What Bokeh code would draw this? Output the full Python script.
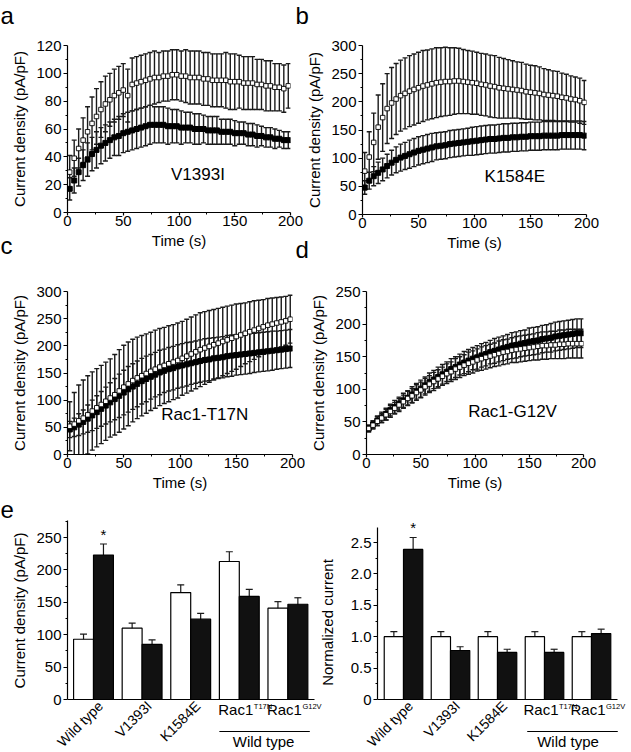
from bokeh.plotting import figure
from bokeh.models import (ColumnDataSource, Whisker, TeeHead, Label, Arrow, FixedTicker,
                          NumeralTickFormatter, Range1d, Row, Column)
from bokeh.embed import file_html
from bokeh.resources import INLINE

FONT = "Liberation Sans"

# ---------------- data ----------------
t = [2, 6, 10, 14, 18, 22, 26, 30, 34, 38, 42, 46, 50, 54, 58, 62, 66, 70, 74, 78,
     82, 86, 90, 94, 98, 102, 106, 110, 114, 118, 122, 126, 130, 134, 138, 142, 146, 150, 154, 158,
     162, 166, 170, 174, 178, 182, 186, 190, 194, 198]

# panel a (V1393I)
a_ctrl = [29, 39, 46, 52, 58, 64, 69, 74, 78, 81, 84, 86, 88, 84, 92, 93, 94, 95, 96, 97,
          97, 98, 98, 99, 99, 98, 98, 97, 97, 97, 96, 96, 95, 95, 95, 95, 94, 94, 94, 93,
          93, 93, 92, 92, 91, 91, 90, 90, 89, 91]
a_ctrl_err = [12, 13, 14, 16, 18, 19, 20, 20, 20, 19, 19, 19, 19, 19, 19, 19, 19, 19, 19, 19,
              18, 18, 18, 18, 18, 18, 19, 19, 19, 19, 19, 19, 19, 19, 19, 20, 20, 20, 19, 19,
              19, 19, 18, 18, 18, 18, 17, 17, 17, 16]
a_trt = [17, 23, 29, 34, 38, 42, 45, 48, 50, 52, 54, 55, 57, 58, 59, 60, 61, 62, 63, 63,
         63, 63, 62, 62, 62, 61, 61, 61, 60, 60, 60, 59, 59, 59, 58, 58, 58, 57, 57, 57,
         56, 56, 55, 55, 54, 54, 53, 53, 52, 52]
a_trt_err = [8, 9, 10, 11, 12, 12, 13, 13, 13, 13, 13, 14, 14, 14, 14, 14, 14, 14, 14, 13,
             13, 13, 13, 12, 12, 12, 11, 11, 11, 11, 10, 10, 10, 10, 9, 9, 9, 9, 8, 8,
             8, 8, 8, 7, 7, 7, 7, 6, 6, 6]

# panel b (K1584E)
b_ctrl = [77, 102, 128, 155, 172, 188, 198, 205, 211, 215, 219, 222, 225, 228, 230, 232, 234, 235, 236, 236,
          237, 237, 236, 235, 234, 233, 231, 230, 228, 227, 225, 224, 223, 222, 221, 220, 218, 217, 216, 215,
          213, 212, 211, 210, 208, 207, 205, 204, 202, 199]
b_ctrl_err = [33, 45, 52, 57, 60, 62, 63, 63, 63, 63, 63, 63, 63, 63, 62, 62, 62, 61, 61, 60,
              59, 58, 57, 56, 56, 55, 55, 55, 55, 55, 54, 53, 52, 51, 50, 50, 49, 48, 48, 47,
              46, 45, 44, 44, 43, 42, 41, 40, 40, 39]
b_trt = [48, 60, 68, 74, 80, 86, 92, 97, 101, 104, 107, 110, 113, 115, 117, 119, 121, 122, 123, 125,
         126, 127, 128, 129, 130, 131, 132, 133, 134, 134, 135, 136, 136, 137, 137, 138, 138, 139, 139, 139,
         140, 140, 140, 140, 141, 141, 141, 141, 141, 140]
b_trt_err = [12, 15, 17, 19, 20, 21, 22, 23, 24, 24, 25, 25, 25, 25, 25, 25, 24, 24, 24, 24,
             24, 24, 24, 24, 25, 25, 25, 25, 25, 25, 25, 25, 25, 25, 25, 25, 25, 25, 25, 25,
             25, 25, 25, 25, 25, 25, 25, 25, 25, 25]

# panel c (Rac1-T17N)
c_ctrl = [52, 56, 62, 67, 73, 80, 86, 92, 98, 104, 110, 117, 124, 130, 136, 141, 145, 149, 153, 157,
          161, 164, 167, 170, 173, 177, 181, 185, 189, 193, 196, 199, 202, 205, 208, 211, 214, 217, 220, 223,
          226, 229, 232, 235, 238, 240, 242, 244, 246, 249]
c_ctrl_err = [45, 58, 66, 70, 72, 72, 72, 72, 72, 72, 74, 76, 77, 77, 76, 75, 74, 73, 72, 72,
              71, 70, 70, 69, 69, 68, 68, 68, 68, 68, 67, 66, 65, 64, 63, 62, 61, 60, 58, 56,
              55, 54, 52, 50, 49, 48, 47, 46, 45, 44]
c_trt = [46, 50, 55, 60, 66, 72, 78, 84, 90, 96, 102, 108, 114, 120, 125, 130, 135, 139, 143, 147,
         151, 154, 157, 159, 162, 164, 166, 168, 170, 172, 174, 175, 177, 178, 179, 181, 182, 183, 184, 185,
         186, 187, 188, 189, 190, 191, 192, 193, 194, 195]
c_trt_err = [15, 17, 20, 22, 25, 28, 30, 32, 34, 36, 38, 40, 41, 42, 42, 42, 42, 42, 41, 41,
             41, 40, 40, 40, 40, 40, 40, 39, 39, 39, 39, 39, 38, 38, 38, 38, 38, 37, 37, 37,
             37, 36, 36, 36, 36, 36, 35, 35, 35, 35]

# panel d (Rac1-G12V)
d_ctrl = [40, 45, 51, 56, 61, 66, 71, 76, 81, 86, 90, 95, 99, 104, 108, 112, 116, 120, 124, 127,
          131, 134, 137, 140, 142, 145, 147, 149, 151, 153, 155, 157, 158, 160, 161, 162, 163, 164, 165, 166,
          167, 167, 168, 168, 169, 169, 170, 170, 170, 170]
d_ctrl_err = [5, 6, 7, 7, 8, 9, 9, 10, 10, 11, 11, 12, 12, 13, 13, 14, 14, 14, 15, 15,
              16, 16, 16, 17, 17, 17, 18, 18, 18, 18, 19, 19, 19, 19, 20, 20, 20, 20, 20, 21,
              21, 21, 21, 21, 22, 22, 22, 22, 22, 22]
d_trt = [40, 46, 52, 57, 62, 68, 73, 78, 83, 87, 92, 97, 101, 106, 111, 115, 119, 123, 127, 131,
         134, 138, 141, 144, 147, 149, 152, 154, 157, 159, 161, 163, 165, 167, 168, 170, 171, 173, 174, 175,
         177, 178, 179, 181, 182, 183, 184, 185, 186, 186]
d_trt_err = [5, 6, 7, 8, 9, 9, 10, 10, 11, 11, 12, 12, 13, 13, 14, 14, 15, 15, 15, 16,
             16, 16, 17, 17, 17, 18, 18, 18, 18, 19, 19, 19, 19, 20, 20, 20, 20, 21, 21, 21,
             21, 21, 22, 22, 22, 22, 22, 22, 22, 22]

# panel e (bar charts)
groups = ["Wild type", "V1393I", "K1584E", "Rac1", "Rac1"]
group_sup = ["", "", "", "T17N", "G12V"]
bracket_label = "Wild type"
dens_ctrl = [93, 110, 165, 213, 141]
dens_ctrl_err = [8, 8, 12, 15, 10]
dens_trt = [223, 85, 124, 159, 147]
dens_trt_err = [17, 7, 9, 11, 10]
norm_ctrl = [1.0, 1.0, 1.0, 1.0, 1.0]
norm_ctrl_err = [0.08, 0.08, 0.08, 0.08, 0.08]
norm_trt = [2.39, 0.78, 0.75, 0.75, 1.05]
norm_trt_err = [0.19, 0.06, 0.05, 0.05, 0.07]

W, H = 631, 752

# ---------------- helpers ----------------
def make_fig(canvas, frame, xr, yr, **kw):
    cl, ct, cr, cb = canvas
    fl, ft, fr, fb = frame
    p = figure(frame_width=fr - fl, frame_height=fb - ft,
               min_border_left=fl - cl, min_border_right=cr - fr,
               min_border_top=ft - ct, min_border_bottom=cb - fb,
               x_range=Range1d(*xr), y_range=Range1d(*yr),
               output_backend="svg", toolbar_location=None, title=None, **kw)
    p.outline_line_color = None
    p.background_fill_color = None
    p.border_fill_color = None
    return p


def style_axes(p):
    p.grid.visible = False
    for ax in p.axis:
        ax.axis_line_color = "black"
        ax.axis_line_width = 1.2
        ax.major_tick_line_color = "black"
        ax.minor_tick_line_color = "black"
        ax.major_tick_line_width = 1.2
        ax.minor_tick_line_width = 1
        ax.major_tick_in = 0
        ax.minor_tick_in = 0
        ax.major_tick_out = 4
        ax.minor_tick_out = 2
        ax.major_label_text_font = FONT
        ax.major_label_text_font_size = "15px"
        ax.major_label_text_color = "black"
        ax.axis_label_text_font = FONT
        ax.axis_label_text_font_size = "15px"
        ax.axis_label_text_font_style = "normal"
        ax.axis_label_text_color = "black"
    for ax in p.xaxis:
        ax.major_tick_out = 3
        ax.major_label_standoff = 0
        ax.axis_label_standoff = 3
    for ax in p.yaxis:
        ax.major_label_standoff = 2
        ax.axis_label_standoff = 5


def whisker(p, xs, mean, err, head, lw):
    src = ColumnDataSource(dict(x=xs, lo=[m - e for m, e in zip(mean, err)],
                                up=[m + e for m, e in zip(mean, err)]))
    p.add_layout(Whisker(source=src, base="x", lower="lo", upper="up", dimension="height",
                         line_color="#1a1a1a", line_width=lw,
                         upper_head=TeeHead(size=head, line_color="#1a1a1a", line_width=lw),
                         lower_head=TeeHead(size=head, line_color="#1a1a1a", line_width=lw)))


def label(p, x, y, text, size, align="left", baseline="middle", angle=0):
    p.add_layout(Label(x=x, y=y, text=text, text_font=FONT, text_font_size=size,
                       text_align=align, text_baseline=baseline, text_color="black",
                       angle=angle, angle_units="deg"))


def time_panel(canvas, frame, ymax, ystep, ctrl, ctrl_err, trt, trt_err, name, name_xy):
    p = make_fig(canvas, frame, (0, 200), (0, ymax))
    p.xaxis.ticker = FixedTicker(ticks=[0, 50, 100, 150, 200], minor_ticks=[25, 75, 125, 175])
    yt = list(range(0, ymax + 1, ystep))
    p.yaxis.ticker = FixedTicker(ticks=yt, minor_ticks=[v + ystep / 2 for v in yt[:-1]])
    p.xaxis.axis_label = "Time (s)"
    p.yaxis.axis_label = "Current density (pA/pF)"
    style_axes(p)
    whisker(p, t, ctrl, ctrl_err, 5, 1.4)
    whisker(p, t, trt, trt_err, 5, 1.4)
    p.scatter(t, trt, marker="square", size=5, fill_color="black", line_color="black")
    p.scatter(t, ctrl, marker="square", size=4.5, fill_color="white", line_color="black",
              line_width=0.9)
    label(p, name_xy[0], name_xy[1], name, "17px", align="center")
    return p


# ---------------- time-course panels ----------------
pa = time_panel((0, 0, 305, 256), (67, 45, 290, 212), 120, 20, a_ctrl, a_ctrl_err, a_trt, a_trt_err,
                "V1393I", (117, 27))
pb = time_panel((290, 0, 631, 256), (362, 43, 586, 212), 300, 50, b_ctrl, b_ctrl_err, b_trt, b_trt_err,
                "K1584E", (136, 68))
pc = time_panel((0, 236, 305, 498), (67, 289, 292, 452), 300, 50, c_ctrl, c_ctrl_err, c_trt, c_trt_err,
                "Rac1-T17N", (122, 73))
pd = time_panel((290, 236, 631, 498), (366, 291, 583, 454), 250, 50, d_ctrl, d_ctrl_err, d_trt, d_trt_err,
                "Rac1-G12V", (134.6, 66.7))

# ---------------- overlay for texts left of the plot frames (page pixel coordinates) ----------------
ov = make_fig((0, 0, W, H), (0, 0, W, H), (0, W), (H, 0), x_axis_type=None, y_axis_type=None)
ov.grid.visible = False
for letter, (lx, ly) in zip("abcde", [(0, 14.5), (295, 14.5), (0, 245), (295, 249), (0, 509)]):
    label(ov, lx, ly, letter, "24px")

# ---------------- bar panels ----------------
# The frame reaches down to the canvas bottom so that the category texts below the
# baseline can be drawn inside it; the y axis is bounded to the data part.
BW = 0.41


def bar_panel(canvas, frame, gx0, ppx, y0px, ppy, axis_end_px, ymax, yticks, yminor,
              ctrl, ctrl_err, trt, trt_err, ylabel, star_py, line_ext):
    fl, ft, fr, fb = frame
    xr = ((fl - gx0) / ppx, (fr - gx0) / ppx)
    yr = ((y0px - fb) / ppy, (y0px - ft) / ppy)
    p = make_fig(canvas, frame, xr, yr, x_axis_type=None)
    p.yaxis.ticker = FixedTicker(ticks=yticks, minor_ticks=yminor)
    p.yaxis.bounds = (0, ymax)
    p.yaxis.axis_label = ylabel
    style_axes(p)

    def X(px):
        return (px - gx0) / ppx

    def Y(py):
        return (y0px - py) / ppy

    # baseline (x axis line without ticks)
    p.segment(x0=[xr[0]], y0=[0], x1=[X(axis_end_px)], y1=[0], line_color="black", line_width=1.2)
    idx = list(range(len(groups)))
    xc = [i - BW / 2 for i in idx]
    xt = [i + BW / 2 for i in idx]
    p.vbar(x=xc, top=ctrl, width=BW, bottom=0, fill_color="white", line_color="black", line_width=1.2)
    p.vbar(x=xt, top=trt, width=BW, bottom=0, fill_color="#111111", line_color="black", line_width=1.2)
    whisker(p, xc, ctrl, ctrl_err, 7, 1.2)
    whisker(p, xt, trt, trt_err, 7, 1.2)

    base = y0px
    label(p, xt[0], Y(star_py), "*", "15px", align="center")
    # first rotated label reaches left of the frame: draw it on the page overlay
    label(ov, gx0 + 7, base + 4, groups[0], "14px", align="right", angle=45)
    for i in (1, 2):
        label(p, i + X(gx0 + 7), Y(base + 4), groups[i], "14px", align="right", angle=45)
    for i in (3, 4):
        label(p, i + X(gx0 + 14), Y(base + 10), groups[i], "15px", align="right")
        label(p, i + X(gx0 + 14.5), Y(base + 7), group_sup[i], "7.5px", align="left")
    x0 = 3 - BW + X(gx0 - line_ext[0])
    x1 = 4 + BW + X(gx0 + line_ext[1])
    p.add_layout(Arrow(end=None, x_start=x0, y_start=Y(base + 32), x_end=x1, y_end=Y(base + 32),
                       line_color="black", line_width=1))
    label(p, 3.5, Y(base + 42), bracket_label, "15px", align="center")
    return p


pe1 = bar_panel((0, 468, 345, 752), (67, 468, 345, 752), 93, 48.6, 699, 162 / 250, 314, 276,
                [0, 50, 100, 150, 200, 250], [25, 75, 125, 175, 225, 275],
                dens_ctrl, dens_ctrl_err, dens_trt, dens_trt_err, "Current density (pA/pF)",
                534, (0, 2))
pe2 = bar_panel((300, 492, 631, 752), (377, 492, 631, 752), 403, 47.0, 699, 157 / 2.5, 617, 2.74,
                [0, 0.5, 1.0, 1.5, 2.0, 2.5], [0.25, 0.75, 1.25, 1.75, 2.25],
                norm_ctrl, norm_ctrl_err, norm_trt, norm_trt_err, "Normalized current",
                527, (-2, 7))
pe2.yaxis.formatter = NumeralTickFormatter(format="0.0")
pe2.yaxis.major_label_overrides = {0: "0"}
pe2.yaxis.axis_label_standoff = 12

# ---------------- layout (overlapping transparent canvases) ----------------
pb.margin = (0, 0, 0, -15)
pd.margin = (0, 0, 0, -15)
pe2.margin = (492 - 468, 0, 0, -45)
ov.margin = (-H, 0, 0, 0)
r1 = Row(children=[pa, pb])
r2 = Row(children=[pc, pd], margin=(-20, 0, 0, 0))
r3 = Row(children=[pe1, pe2], margin=(468 - 498, 0, 0, 0))
root = Column(children=[r1, r2, r3, ov])

open("out.html", "w").write(file_html(root, INLINE))
